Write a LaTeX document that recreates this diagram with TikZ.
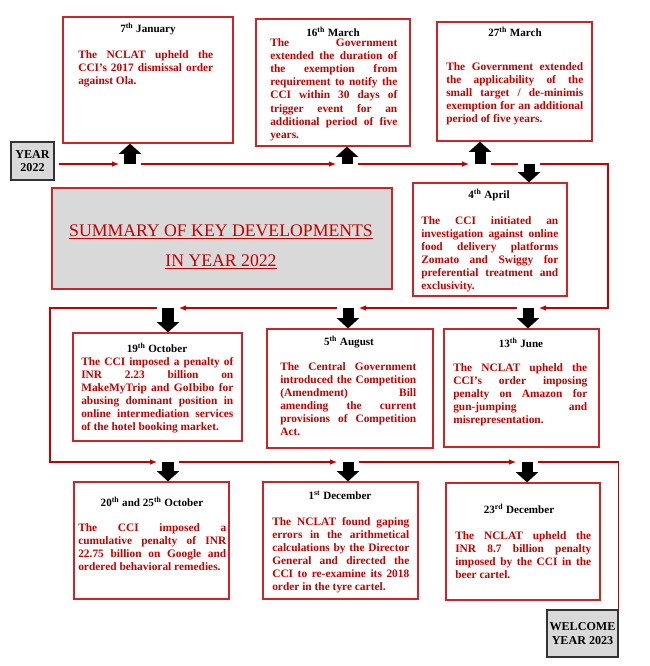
\documentclass[tikz,border=0pt]{standalone}
\usepackage{fontspec}
\setmainfont{Liberation Serif}
\usepackage{tikz}
\usetikzlibrary{arrows.meta,positioning}
\definecolor{devred}{HTML}{C00000}
\definecolor{boxred}{HTML}{C9262C}
\definecolor{boxgray}{HTML}{D9D9D9}
\tikzset{
  event/.style={rectangle,draw=boxred,line width=0.8pt,inner sep=0pt},
  evdate/.style={font=\fontsize{7.9}{9}\selectfont\bfseries,text=black,inner sep=0pt},
  evtext/.style={font=\fontsize{8.1}{9.3}\selectfont\bfseries,text=devred,align=justify,
    inner sep=0pt,anchor=north west},
  yearbox/.style={rectangle,draw=black!80,line width=1.1pt,fill=boxgray,align=center,
    inner sep=0pt,font=\fontsize{8.6}{9.8}\selectfont\bfseries},
  flow/.style={draw=devred,line width=0.8pt,-{Latex[length=5pt,width=4pt]},
    shorten <=7.8pt,shorten >=7.8pt},
  blockarrow/.style={draw=black,line width=0.275cm,-{Triangle[length=0.26cm,width=0.55cm]}}
}

\begin{document}
\begin{tikzpicture}[x=0.025cm,y=-0.025cm]
  \useasboundingbox (0,0) rectangle (650,666);
  % top row
  \node[event,minimum width=4.25cm,minimum height=3.15cm] (jan) at (148,80) {};
  \node[event,minimum width=3.85cm,minimum height=3.175cm] (mar16) at (333,82.5) {};
  \node[event,minimum width=3.875cm,minimum height=2.975cm] (mar27) at (514.5,81.5) {};
  \node[evdate] (jandate) at (148,29) {7\textsuperscript{th} January};
  \node[evtext,text width=3.375cm] (jantext) at (78,50)
    {The NCLAT upheld the\linebreak CCI's 2017 dismissal order\linebreak against Ola.};
  \node[evdate] (mar16date) at (333,31.5) {16\textsuperscript{th} March};
  \node[evtext,text width=3.175cm] (mar16text) at (270,38.5)
    {The Government\linebreak extended the duration of\linebreak the exemption from\linebreak
     requirement to notify the\linebreak CCI within 30 days of\linebreak trigger event for an\linebreak
     additional period of five\linebreak years.};
  \node[evdate] (mar27date) at (515,32) {27\textsuperscript{th} March};
  \node[evtext,text width=3.425cm] (mar27text) at (446,62)
    {The Government extended\linebreak the applicability of the\linebreak small target / de-minimis\linebreak
     exemption for an additional\linebreak period of five years.};
  % second row
  \node[rectangle,draw=boxred,line width=0.8pt,fill=boxgray,minimum width=8.5cm,
    minimum height=2.525cm] (summ) at (222,238.5) {};
  \node[font=\fontsize{12.6}{21.3}\selectfont,text=devred,align=center] (title) at (221,247)
    {\underline{SUMMARY OF KEY DEVELOPMENTS}\\\underline{IN YEAR 2022}};
  \node[event,minimum width=3.85cm,minimum height=2.825cm] (apr) at (490,239.5) {};
  \node[evdate] (aprdate) at (489,195) {4\textsuperscript{th} April};
  \node[evtext,text width=3.425cm] (aprtext) at (421,216)
    {The CCI initiated an\linebreak investigation against online\linebreak food delivery platforms\linebreak
     Zomato and Swiggy for\linebreak preferential treatment and\linebreak exclusivity.};
  % third row
  \node[event,minimum width=4.225cm,minimum height=2.7cm] (oct19) at (157.5,387) {};
  \node[event,minimum width=4.15cm,minimum height=2.975cm] (aug) at (350,388.5) {};
  \node[event,minimum width=3.875cm,minimum height=2.95cm] (jun) at (521.5,388) {};
  \node[evdate] (oct19date) at (157,348) {19\textsuperscript{th} October};
  \node[evtext,text width=3.8cm] (oct19text) at (81,357)
    {The CCI imposed a penalty of\linebreak INR 2.23 billion on\linebreak MakeMyTrip and GoIbibo for\linebreak
     abusing dominant position in\linebreak online intermediation services\linebreak of the hotel booking market.};
  \node[evdate] (augdate) at (349,342) {5\textsuperscript{th} August};
  \node[evtext,text width=3.4cm] (augtext) at (280,362)
    {The Central Government\linebreak introduced the Competition\linebreak (Amendment) Bill\linebreak
     amending the current\linebreak provisions of Competition\linebreak Act.};
  \node[evdate] (jundate) at (521,343) {13\textsuperscript{th} June};
  \node[evtext,text width=3.35cm] (juntext) at (453,363)
    {The NCLAT upheld the\linebreak CCI’s order imposing\linebreak penalty on Amazon for\linebreak
     gun-jumping and\linebreak misrepresentation.};
  % fourth row
  \node[event,minimum width=3.875cm,minimum height=2.925cm] (oct20) at (151.5,540.5) {};
  \node[event,minimum width=3.875cm,minimum height=2.925cm] (dec1) at (340.5,540.5) {};
  \node[event,minimum width=3.85cm,minimum height=2.925cm] (dec23) at (523,541.5) {};
  \node[evdate] (oct20date) at (152,502) {20\textsuperscript{th} and 25\textsuperscript{th} October};
  \node[evtext,text width=3.7cm] (oct20text) at (78,523)
    {The CCI imposed a\linebreak cumulative penalty of INR\linebreak 22.75 billion on Google and\linebreak
     ordered behavioral remedies.};
  \node[evdate] (dec1date) at (340,495) {1\textsuperscript{st} December};
  \node[evtext,text width=3.425cm] (dec1text) at (272,517)
    {The NCLAT found gaping\linebreak errors in the arithmetical\linebreak calculations by the Director\linebreak
     General and directed the\linebreak CCI to re-examine its 2018\linebreak order in the tyre cartel.};
  \node[evdate] (dec23date) at (519,509) {23\textsuperscript{rd} December};
  \node[evtext,text width=3.4cm] (dec23text) at (455,531)
    {The NCLAT upheld the\linebreak INR 8.7 billion penalty\linebreak imposed by the CCI in the\linebreak
     beer cartel.};
  % start and end
  \node[yearbox,minimum width=1.075cm,minimum height=0.95cm] (y22) at (32.5,161) {YEAR\\2022};
  \node[yearbox,minimum width=1.775cm,minimum height=1.175cm] (y23) at (582.5,633.5) {WELCOME\\YEAR 2023};
  % points on the timeline
  \coordinate (u1) at (130,164);
  \coordinate (u2) at (347,164);
  \coordinate (u3) at (480,164);
  \coordinate (d1) at (529,164);
  \coordinate (turn1) at (608,308);
  \coordinate (d2) at (528,308);
  \coordinate (d3) at (348,308);
  \coordinate (d4) at (168,308);
  \coordinate (turn2) at (50,462);
  \coordinate (d5) at (168,462);
  \coordinate (d6) at (348,462);
  \coordinate (d7) at (527,462);
  % red timeline
  \draw[flow,shorten <=3pt] (y22.east |- u1) -- (u1);
  \draw[flow] (u1) -- (u2);
  \draw[flow] (u2) -- (u3);
  \draw[flow,-] (u3) -- (d1);
  \draw[flow] (d1) -| (turn1) -- (d2);
  \draw[flow] (d2) -- (d3);
  \draw[flow] (d3) -- (d4);
  \draw[flow] (d4) -| (turn2) -- (d5);
  \draw[flow] (d5) -- (d6);
  \draw[flow] (d6) -- (d7);
  \draw[flow,-,shorten >=0pt] (d7) -| (y23.north east);
  % black arrows to the events
  \draw[blockarrow] (u1) -- (u1 |- jan.south);
  \draw[blockarrow] (u2) -- (u2 |- mar16.south);
  \draw[blockarrow] (u3) -- (u3 |- mar27.south);
  \draw[blockarrow] (d1) -- (d1 |- apr.north);
  \draw[blockarrow] (d2) -- (d2 |- jun.north);
  \draw[blockarrow] (d3) -- (d3 |- aug.north);
  \draw[blockarrow] (d4) -- (d4 |- oct19.north);
  \draw[blockarrow] (d5) -- (d5 |- oct20.north);
  \draw[blockarrow] (d6) -- (d6 |- dec1.north);
  \draw[blockarrow] (d7) -- (d7 |- dec23.north);
\end{tikzpicture}
\end{document}
